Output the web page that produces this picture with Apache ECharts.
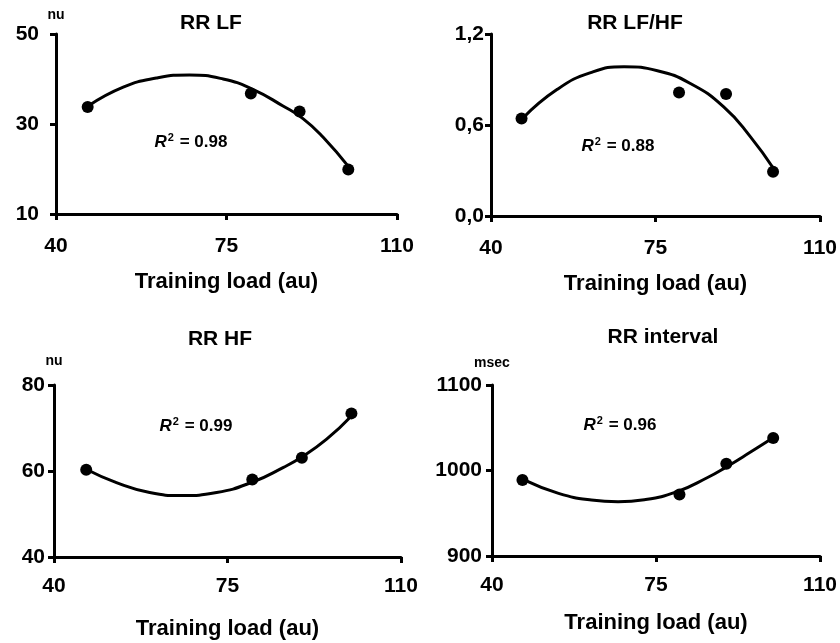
<!DOCTYPE html>
<html>
<head>
<meta charset="utf-8">
<script src="https://cdn.jsdelivr.net/npm/echarts@6/dist/echarts.min.js"></script>
<style>html,body{margin:0;padding:0;background:#fff}#c{width:840px;height:643px}</style>
</head>
<body>
<div id="c"></div>
<script>
// ---- data ----
const titles = ['RR LF', 'RR LF/HF', 'RR HF', 'RR interval'];
const units = ['nu', '', 'nu', 'msec'];
const r2Labels = ['0.98', '0.88', '0.99', '0.96'];
const xTicks = [40, 75, 110];
const xLabel = 'Training load (au)';

const loadX = [46.5, 80, 90, 100];
const lfY = [33.8, 36.8, 32.8, 19.9];
const lfhfY = [0.643, 0.815, 0.804, 0.291];
const hfY = [60.3, 58.0, 63.1, 73.4];
const rrY = [989, 972, 1008, 1038];

// fitted curves
const lfFitX = [46.6, 53.8, 60.6, 67.4, 74.3, 80.4, 86.6, 90.7, 94.8, 100.3];
const lfFitY = [34.0, 38.2, 40.2, 40.9, 40.0, 37.7, 34.0, 31.2, 27.1, 20.2];
const lfhfFitX = [46.7, 54.1, 61.2, 68.3, 75.4, 82.4, 89.5, 95.2, 100.1];
const lfhfFitY = [0.643, 0.835, 0.945, 0.984, 0.958, 0.874, 0.720, 0.522, 0.313];
const hfFitX = [46.7, 52.6, 59.3, 65.7, 72.8, 80.2, 86.2, 89.9, 95.0, 100.0];
const hfFitY = [60.3, 57.3, 55.0, 54.3, 55.0, 57.5, 60.8, 63.2, 67.4, 72.8];
const rrFitX = [47.1, 54.2, 61.2, 66.9, 72.5, 79.5, 85.9, 90.1, 95.0, 99.8];
const rrFitY = [988.5, 973.3, 965.5, 963.5, 965.8, 975.2, 991.5, 1004.5, 1021.0, 1037.7];

const yMin = [10, 0, 40, 900];
const yMax = [50, 1.2, 80, 1100];
const yStep = [20, 0.6, 20, 100];
const yTickLabels = [
  ['10', '30', '50'],
  ['0,0', '0,6', '1,2'],
  ['40', '60', '80'],
  ['900', '1000', '1100']
];

const pts = [loadX.map((x, i) => [x, lfY[i]]), loadX.map((x, i) => [x, lfhfY[i]]),
             loadX.map((x, i) => [x, hfY[i]]), loadX.map((x, i) => [x, rrY[i]])];
const fits = [lfFitX.map((x, i) => [x, lfFitY[i]]), lfhfFitX.map((x, i) => [x, lfhfFitY[i]]),
              hfFitX.map((x, i) => [x, hfFitY[i]]), rrFitX.map((x, i) => [x, rrFitY[i]])];

// ---- layout ----
const FONT = "'Liberation Sans', Arial, sans-serif";
const grids = [
  { left: 56, top: 34, width: 341, height: 180 },
  { left: 491, top: 34, width: 330, height: 182 },
  { left: 54, top: 385, width: 347, height: 172 },
  { left: 492, top: 385, width: 331, height: 171 }
];
const titlePos = [[206, 8], [630, 8], [215, 324], [658, 322]];
const r2Pos = [[186, 127], [613, 131], [191, 411], [615, 410]];
const xNameGap = [57, 57, 61, 56];
const xLabMargin = [22, 22, 19, 19];
const yLabMargin = [17, 7, 9, 10];
const unitGap = [12, 12, 17, 15];

const axisLine = { show: true, lineStyle: { color: '#000', width: 3 } };
const axisTick = { show: true, inside: false, length: 6, lineStyle: { color: '#000', width: 3 } };

const option = {
  backgroundColor: '#fff',
  animation: false,
  textStyle: { fontFamily: FONT },
  title: [],
  grid: grids.map(g => Object.assign({ containLabel: false }, g)),
  xAxis: [],
  yAxis: [],
  series: []
};

for (let i = 0; i < 4; i++) {
  option.title.push({
    text: titles[i], left: titlePos[i][0], top: titlePos[i][1], textAlign: 'center',
    textStyle: { fontFamily: FONT, fontWeight: 'bold', fontSize: 21, color: '#000' }
  });
  option.title.push({
    text: '{r|R}{s|2}{t| = ' + r2Labels[i] + '}',
    left: r2Pos[i][0], top: r2Pos[i][1], textAlign: 'center',
    textStyle: {
      rich: {
        r: { fontFamily: FONT, fontWeight: 'bold', fontStyle: 'italic', fontSize: 17, color: '#000' },
        s: { fontFamily: FONT, fontWeight: 'bold', fontSize: 11, color: '#000', verticalAlign: 'top', padding: [0, 1, 9, 1] },
        t: { fontFamily: FONT, fontWeight: 'bold', fontSize: 17, color: '#000' }
      }
    }
  });
  option.xAxis.push({
    type: 'value', gridIndex: i, min: xTicks[0], max: xTicks[2], interval: xTicks[1] - xTicks[0],
    splitLine: { show: false }, axisLine: axisLine, axisTick: axisTick,
    axisLabel: { color: '#000', fontFamily: FONT, fontWeight: 'bold', fontSize: 21, margin: xLabMargin[i] },
    name: xLabel, nameLocation: 'middle', nameGap: xNameGap[i],
    nameTextStyle: { color: '#000', fontFamily: FONT, fontWeight: 'bold', fontSize: 22 }
  });
  const labs = yTickLabels[i];
  const mn = yMin[i], st = yStep[i];
  option.yAxis.push({
    type: 'value', gridIndex: i, min: mn, max: yMax[i], interval: st,
    splitLine: { show: false }, axisLine: axisLine, axisTick: axisTick,
    axisLabel: {
      color: '#000', fontFamily: FONT, fontWeight: 'bold', fontSize: 21, margin: yLabMargin[i],
      formatter: v => labs[Math.round((v - mn) / st)]
    },
    name: units[i], nameLocation: 'end', nameGap: unitGap[i],
    nameTextStyle: { color: '#000', fontFamily: FONT, fontWeight: 'bold', fontSize: 14, align: 'center' }
  });
  option.series.push({
    type: 'line', xAxisIndex: i, yAxisIndex: i, data: fits[i], smooth: 0.5,
    showSymbol: false, symbol: 'none', lineStyle: { color: '#000', width: 3 }, z: 2
  });
  option.series.push({
    type: 'scatter', xAxisIndex: i, yAxisIndex: i, data: pts[i], symbol: 'circle',
    symbolSize: 12, itemStyle: { color: '#000', opacity: 1 }, z: 3
  });
}

const chart = echarts.init(document.getElementById('c'), null, { renderer: 'canvas' });
chart.setOption(option);
</script>
</body>
</html>
